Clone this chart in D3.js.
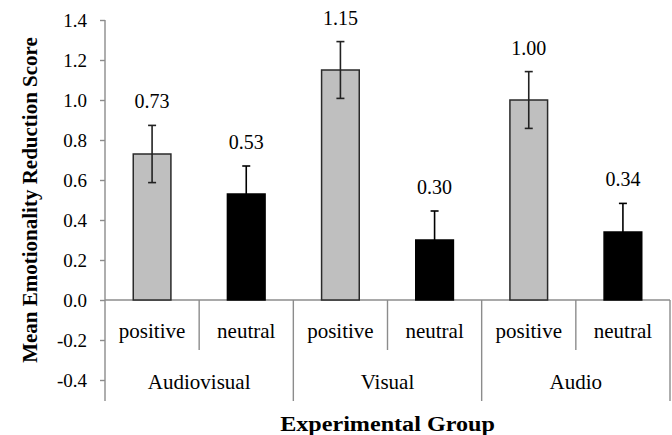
<!DOCTYPE html>
<html>
<head>
<meta charset="utf-8">
<script src="https://cdn.jsdelivr.net/npm/d3@7"></script>
<style>
  body { margin: 0; background: #fff; }
  svg { display: block; }
  text { font-family: "Liberation Serif", "Times New Roman", serif; fill: #000; }
</style>
</head>
<body>
<div id="chart"></div>
<script>
// data
const groups = ['Audiovisual', 'Visual', 'Audio'];
const conditions = ['positive', 'neutral', 'positive', 'neutral', 'positive', 'neutral'];
const means = [0.73, 0.53, 1.15, 0.30, 1.00, 0.34];
const errors = [0.143, 0.14, 0.142, 0.145, 0.142, 0.143];
const yTicks = [-0.4, -0.2, 0.0, 0.2, 0.4, 0.6, 0.8, 1.0, 1.2, 1.4];

const width = 672;
const height = 435;
const margin = {top: 20, right: 2, bottom: 55, left: 105};
const axisColor = '#8c8c8c';

const svg = d3.select('#chart')
  .append('svg')
  .attr('width', width)
  .attr('height', height);

const y = d3.scaleLinear()
  .domain([-0.4, 1.4])
  .range([height - margin.bottom, margin.top]);

const x = d3.scaleBand()
  .domain(d3.range(means.length))
  .range([margin.left, width - margin.right])
  .paddingInner(0.6)
  .paddingOuter(0.3);

const step = x.step();
const axisBottomEnd = y(-0.4) + 21;

// y axis
svg.append('g')
  .attr('transform', `translate(${margin.left},0)`)
  .call(d3.axisLeft(y).tickValues(yTicks).tickSize(5).tickPadding(13)
    .tickFormat(d => d.toFixed(1)))
  .call(g => g.select('.domain').remove())
  .call(g => g.selectAll('.tick line').attr('stroke', axisColor).attr('stroke-width', 1.4))
  .call(g => g.selectAll('.tick text')
    .attr('font-size', 19)
    .attr('fill', '#000'));

svg.append('line')
  .attr('x1', margin.left).attr('x2', margin.left)
  .attr('y1', margin.top).attr('y2', axisBottomEnd)
  .attr('stroke', axisColor).attr('stroke-width', 1.4);

// x baseline and category separators
svg.append('line')
  .attr('x1', margin.left).attr('x2', width - margin.right)
  .attr('y1', y(0)).attr('y2', y(0))
  .attr('stroke', axisColor).attr('stroke-width', 1.4);

svg.append('g')
  .selectAll('line')
  .data(d3.range(1, means.length + 1))
  .join('line')
  .attr('x1', i => margin.left + i * step)
  .attr('x2', i => margin.left + i * step)
  .attr('y1', y(0))
  .attr('y2', i => i % 2 === 0 ? axisBottomEnd : y(0) + 50)
  .attr('stroke', axisColor)
  .attr('stroke-width', 1.4);

// bars
svg.append('g')
  .selectAll('rect')
  .data(means)
  .join('rect')
  .attr('x', (d, i) => x(i))
  .attr('y', d => y(d))
  .attr('width', x.bandwidth())
  .attr('height', d => y(0) - y(d))
  .attr('fill', (d, i) => i % 2 === 0 ? '#bfbfbf' : '#000')
  .attr('stroke', (d, i) => i % 2 === 0 ? '#2a2a2a' : '#000')
  .attr('stroke-width', 1.5);

// error bars
const err = svg.append('g')
  .attr('stroke-width', 1.6)
  .selectAll('g')
  .data(means)
  .join('g')
  .attr('stroke', (d, i) => i % 2 === 0 ? '#222' : '#000')
  .attr('transform', (d, i) => `translate(${x(i) + x.bandwidth() / 2},0)`);

err.append('line')
  .attr('y1', (d, i) => y(d - errors[i]))
  .attr('y2', (d, i) => y(d + errors[i]));
err.append('line')
  .attr('x1', -4).attr('x2', 4)
  .attr('y1', (d, i) => y(d + errors[i]))
  .attr('y2', (d, i) => y(d + errors[i]));
err.append('line')
  .attr('x1', -4).attr('x2', 4)
  .attr('y1', (d, i) => y(d - errors[i]))
  .attr('y2', (d, i) => y(d - errors[i]));

// value labels
svg.append('g')
  .selectAll('text')
  .data(means)
  .join('text')
  .attr('x', (d, i) => x(i) + x.bandwidth() / 2)
  .attr('y', (d, i) => y(d + errors[i]) - 17)
  .attr('text-anchor', 'middle')
  .attr('font-size', 20)
  .text(d => d.toFixed(2));

// category labels
svg.append('g')
  .selectAll('text')
  .data(conditions)
  .join('text')
  .attr('x', (d, i) => x(i) + x.bandwidth() / 2)
  .attr('y', 338)
  .attr('text-anchor', 'middle')
  .attr('font-size', 21)
  .text(d => d);

// group labels
svg.append('g')
  .selectAll('text')
  .data(groups)
  .join('text')
  .attr('x', (d, i) => margin.left + (i * 2 + 1) * step)
  .attr('y', 389)
  .attr('text-anchor', 'middle')
  .attr('font-size', 21)
  .text(d => d);

// axis titles
svg.append('text')
  .attr('transform', `translate(${(margin.left + width - margin.right) / 2},431) scale(1.15,1)`)
  .attr('text-anchor', 'middle')
  .attr('font-size', 21)
  .attr('font-weight', 'bold')
  .text('Experimental Group');

svg.append('text')
  .attr('transform', 'translate(37,200) rotate(-90)')
  .attr('text-anchor', 'middle')
  .attr('font-size', 21)
  .attr('font-weight', 'bold')
  .text('Mean Emotionality Reduction Score');
</script>
</body>
</html>
